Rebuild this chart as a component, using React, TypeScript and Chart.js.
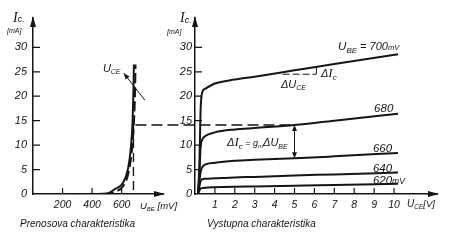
import { useEffect, useRef } from "react";
import { Chart, registerables } from "chart.js";

Chart.register(...registerables);

// Transfer characteristic Ic = f(UBE), two nearly coincident branches
const transferVbeSolid = [300, 440, 500, 554, 610, 644, 662, 674, 680, 683];
const transferIcSolid = [0, 0, 0.1, 1.0, 2.3, 5.3, 9.3, 14.7, 21.3, 26.5];
const transferVbeDashed = [480, 520, 560, 610, 645, 668, 682, 690, 694];
const transferIcDashed = [0, 0.1, 0.5, 1.6, 4.2, 8.5, 14, 20, 26.5];

// Output characteristics Ic = f(UCE), one curve per UBE
const uceVolts = [0.15, 0.22, 0.28, 0.35, 0.5, 1, 2, 3, 5, 7, 10.2];
const ic700 = [0, 6, 17, 20.6, 21.5, 22.6, 23.4, 24.0, 25.3, 26.6, 28.6];
const ic680 = [0, 4, 9.5, 11.0, 11.8, 12.6, 13.2, 13.5, 14.1, 15.0, 16.4];
const ic660 = [0, 2.5, 4.5, 5.4, 6.0, 6.4, 6.8, 7.0, 7.3, 7.7, 8.4];
const ic640 = [0, 1.5, 2.6, 3.0, 3.1, 3.2, 3.4, 3.5, 3.8, 4.0, 4.4];
const ic620 = [0, 0.7, 1.1, 1.2, 1.3, 1.4, 1.5, 1.55, 1.7, 1.85, 2.1];

// Axis ticks
const icTicks = [0, 5, 10, 15, 20, 25, 30];
const vbeTicks = [200, 400, 600];
const uceTicks = [1, 2, 3, 4, 5, 6, 7, 8, 9, 10];

// Operating point linking both diagrams
const operatingVbe = 680;
const operatingUce = 5;
// Slope triangle on the 700 mV curve
const slopeUceFrom = 4.4;
const slopeUceTo = 6.1;

const INK = "#151515";
const SANS = '"Liberation Sans", Arial, sans-serif';
const SERIF = '"Liberation Serif", "Times New Roman", serif';

const W = 452;
const H = 241;

type Run = { t: string; size: number; dy?: number; serif?: boolean };

function interp(xs: number[], ys: number[], v: number) {
  for (let i = 1; i < xs.length; i++) {
    if (v <= xs[i]) {
      const t = (v - xs[i - 1]) / (xs[i] - xs[i - 1]);
      return ys[i - 1] + t * (ys[i] - ys[i - 1]);
    }
  }
  return ys[ys.length - 1];
}

function drawRuns(ctx: CanvasRenderingContext2D, runs: Run[], x: number, y: number) {
  let cx = x;
  ctx.textBaseline = "alphabetic";
  ctx.textAlign = "left";
  for (const r of runs) {
    ctx.font = `italic ${r.size}px ${r.serif ? SERIF : SANS}`;
    ctx.fillText(r.t, cx, y + (r.dy ?? 0));
    cx += ctx.measureText(r.t).width;
  }
}

function dashedLine(ctx: CanvasRenderingContext2D, x1: number, y1: number, x2: number, y2: number, dash: number[]) {
  ctx.save();
  ctx.setLineDash(dash);
  ctx.beginPath();
  ctx.moveTo(x1, y1);
  ctx.lineTo(x2, y2);
  ctx.stroke();
  ctx.restore();
}

function arrowHead(ctx: CanvasRenderingContext2D, fx: number, fy: number, tx: number, ty: number, len = 6, half = 2.5) {
  const a = Math.atan2(ty - fy, tx - fx);
  ctx.beginPath();
  ctx.moveTo(tx, ty);
  ctx.lineTo(tx - len * Math.cos(a) + half * Math.sin(a), ty - len * Math.sin(a) - half * Math.cos(a));
  ctx.lineTo(tx - len * Math.cos(a) - half * Math.sin(a), ty - len * Math.sin(a) + half * Math.cos(a));
  ctx.closePath();
  ctx.fill();
}

// Inner tick marks and arrow-tipped axes
const axisDecor = {
  id: "axisDecor",
  afterDraw(chart: any) {
    const { ctx, chartArea: a, scales } = chart;
    ctx.save();
    ctx.strokeStyle = INK;
    ctx.fillStyle = INK;
    ctx.lineWidth = 1.2;
    ctx.beginPath();
    for (const t of scales.x.ticks) {
      const px = scales.x.getPixelForValue(t.value);
      ctx.moveTo(px, a.bottom);
      ctx.lineTo(px, a.bottom - 6);
    }
    for (const t of scales.y.ticks) {
      if (t.value === 0) continue;
      const py = scales.y.getPixelForValue(t.value);
      ctx.moveTo(a.left, py);
      ctx.lineTo(a.left + 7, py);
    }
    ctx.stroke();
    ctx.beginPath();
    ctx.moveTo(a.left, a.top - 2);
    ctx.lineTo(a.left - 3, a.top + 9);
    ctx.lineTo(a.left + 3, a.top + 9);
    ctx.closePath();
    ctx.moveTo(a.right + 2, a.bottom);
    ctx.lineTo(a.right - 9, a.bottom - 3);
    ctx.lineTo(a.right - 9, a.bottom + 3);
    ctx.closePath();
    ctx.fill();
    ctx.restore();
  },
};

function makeOptions(xMax: number, xTicks: number[], left: number, right: number, yPad: number) {
  const tickFont = { family: SANS, size: 11, style: "italic" as const };
  return {
    responsive: false,
    animation: false as const,
    devicePixelRatio: 1,
    layout: { padding: { left: 0, top: 18, right: W - right, bottom: 0 } },
    plugins: { legend: { display: false }, tooltip: { enabled: false } },
    elements: { point: { radius: 0 } },
    scales: {
      x: {
        type: "linear" as const,
        min: 0,
        max: xMax,
        afterBuildTicks: (s: any) => {
          s.ticks = xTicks.map((v) => ({ value: v }));
        },
        afterFit: (s: any) => {
          s.height = H - 194;
        },
        grid: { display: false, drawTicks: false },
        border: { display: true, color: INK, width: 1.5 },
        ticks: { font: { ...tickFont, size: 10.5 }, color: INK, padding: 5, autoSkip: false, maxRotation: 0 },
      },
      y: {
        type: "linear" as const,
        min: 0,
        max: 36,
        afterBuildTicks: (s: any) => {
          s.ticks = icTicks.map((v) => ({ value: v }));
        },
        afterFit: (s: any) => {
          s.width = left;
        },
        grid: { display: false, drawTicks: false },
        border: { display: true, color: INK, width: 1.5 },
        ticks: { font: tickFont, color: INK, padding: yPad, autoSkip: false },
      },
    },
  };
}

const curve = (xs: number[], ys: number[], dash: number[] = []) => ({
  data: xs.map((x, i) => ({ x, y: ys[i] })),
  borderColor: INK,
  borderWidth: 2,
  borderDash: dash,
  pointRadius: 0,
  fill: false,
  cubicInterpolationMode: "monotone" as const,
});

export default function App() {
  const leftRef = useRef<HTMLCanvasElement>(null);
  const rightRef = useRef<HTMLCanvasElement>(null);

  useEffect(() => {
    if (!leftRef.current || !rightRef.current) return;
    const operatingIc = interp(uceVolts, ic680, operatingUce);
    const lowerIc = interp(uceVolts, ic660, operatingUce);

    const leftNotes = {
      id: "leftNotes",
      afterDraw(chart: any) {
        const { ctx, scales: { x, y }, chartArea: a } = chart;
        ctx.save();
        ctx.strokeStyle = INK;
        ctx.fillStyle = INK;
        ctx.lineWidth = 1.4;
        // UBE guide at the operating point
        const gx = x.getPixelForValue(operatingVbe);
        dashedLine(ctx, gx, y.getPixelForValue(operatingIc), gx, a.bottom, [9, 5]);
        // UCE pointer
        ctx.lineWidth = 1;
        const p1x = x.getPixelForValue(757), p1y = y.getPixelForValue(19.2);
        const p2x = x.getPixelForValue(615), p2y = y.getPixelForValue(24.7);
        ctx.beginPath();
        ctx.moveTo(p1x, p1y);
        ctx.lineTo(p2x, p2y);
        ctx.stroke();
        arrowHead(ctx, p1x, p1y, p2x, p2y, 6, 2.5);
        drawRuns(ctx, [{ t: "U", size: 11 }, { t: "CE", size: 7, dy: 2 }], x.getPixelForValue(473), y.getPixelForValue(24.9));
        // axis titles
        drawRuns(ctx, [{ t: "I", size: 14, serif: true }, { t: "c.", size: 9, dy: 0.5 }], a.left - 20, 21.5);
        drawRuns(ctx, [{ t: "[mA]", size: 7 }], a.left - 26, 33);
        drawRuns(ctx, [{ t: "U", size: 9.5 }, { t: "BE", size: 6, dy: 1.5 }, { t: " [mV]", size: 9.5 }], a.right - 23, 209);
        drawRuns(ctx, [{ t: "Prenosova charakteristika", size: 10 }], 20, 227);
        ctx.restore();
      },
    };

    const leftChart = new Chart(leftRef.current, {
      type: "line",
      data: {
        datasets: [
          curve(transferVbeSolid, transferIcSolid),
          curve(transferVbeDashed, transferIcDashed, [10, 4]),
        ],
      },
      options: makeOptions(880, vbeTicks, 33, 163, 6) as any,
      plugins: [axisDecor, leftNotes],
    });

    const rightNotes = {
      id: "rightNotes",
      afterDraw(chart: any) {
        const { ctx, scales: { x, y } } = chart;
        ctx.save();
        ctx.strokeStyle = INK;
        ctx.fillStyle = INK;
        ctx.lineWidth = 1.4;
        // horizontal projection from the transfer curve to the output curve
        const opY = y.getPixelForValue(operatingIc);
        const startX = leftChart.scales.x.getPixelForValue(operatingVbe);
        const opX = x.getPixelForValue(operatingUce);
        dashedLine(ctx, startX + 2, opY, opX, opY, [11, 5]);
        // ΔIc double arrow between the 680 and 660 curves
        ctx.lineWidth = 1;
        const loY = y.getPixelForValue(lowerIc);
        ctx.beginPath();
        ctx.moveTo(opX, opY + 2);
        ctx.lineTo(opX, loY - 2);
        ctx.stroke();
        arrowHead(ctx, opX, loY, opX, opY, 6, 2.5);
        arrowHead(ctx, opX, opY, opX, loY, 6, 2.5);
        // slope triangle on the 700 mV curve
        const sy1 = y.getPixelForValue(interp(uceVolts, ic700, slopeUceFrom));
        const sy2 = y.getPixelForValue(interp(uceVolts, ic700, slopeUceTo));
        const sx1 = x.getPixelForValue(slopeUceFrom);
        const sx2 = x.getPixelForValue(slopeUceTo);
        dashedLine(ctx, sx1, sy1 + 2, sx2, sy1 + 2, [7, 3]);
        ctx.beginPath();
        ctx.moveTo(sx2, sy1 + 2);
        ctx.lineTo(sx2, sy2);
        ctx.stroke();

        const at = (u: number, i: number): [number, number] => [x.getPixelForValue(u), y.getPixelForValue(i)];
        drawRuns(ctx, [{ t: "U", size: 11.5 }, { t: "BE", size: 8, dy: 2.5 }, { t: " = 700", size: 11 }, { t: "mV", size: 7.5 }], ...at(7.19, 29.4));
        drawRuns(ctx, [{ t: "680", size: 11.5 }], ...at(9.0, 16.8));
        drawRuns(ctx, [{ t: "660", size: 11.5 }], ...at(8.94, 8.6));
        drawRuns(ctx, [{ t: "640", size: 11.5 }], ...at(8.94, 4.5));
        drawRuns(ctx, [{ t: "620", size: 11.5 }, { t: "mV", size: 8.5 }], ...at(8.94, 2.05));
        drawRuns(ctx, [{ t: "Δ", size: 11 }, { t: "U", size: 11 }, { t: "CE", size: 7, dy: 2.5 }], ...at(4.32, 21.7));
        drawRuns(ctx, [{ t: "Δ", size: 11 }, { t: "I", size: 13, serif: true }, { t: "c", size: 8, dy: 2.5 }], ...at(6.33, 23.9));
        drawRuns(
          ctx,
          [
            { t: "Δ", size: 11 },
            { t: "I", size: 13, serif: true },
            { t: "c", size: 8, dy: 2.5 },
            { t: " = ", size: 9 },
            { t: "g", size: 9 },
            { t: "m", size: 6, dy: 1.5 },
            { t: "Δ", size: 11 },
            { t: "U", size: 11 },
            { t: "BE", size: 7, dy: 2.5 },
          ],
          ...at(1.61, 9.8)
        );
        // axis titles
        const a = chart.chartArea;
        drawRuns(ctx, [{ t: "I", size: 14, serif: true }, { t: "c.", size: 9, dy: 0.5 }], a.left - 15, 22);
        drawRuns(ctx, [{ t: "[mA]", size: 7 }], a.left - 28, 34);
        drawRuns(ctx, [{ t: "U", size: 10 }, { t: "CE", size: 6.5, dy: 1.5 }, { t: "[V]", size: 9.5 }], 407, 207);
        drawRuns(ctx, [{ t: "Vystupna charakteristika", size: 10 }], 207, 227);
        ctx.restore();
      },
    };

    const rightChart = new Chart(rightRef.current, {
      type: "line",
      data: {
        datasets: [
          curve(uceVolts, ic700),
          curve(uceVolts, ic680),
          curve(uceVolts, ic660),
          curve(uceVolts, ic640),
          curve(uceVolts, ic620),
        ],
      },
      options: makeOptions(12.16, uceTicks, 195, 437, 3) as any,
      plugins: [axisDecor, rightNotes],
    });

    return () => {
      rightChart.destroy();
      leftChart.destroy();
    };
  }, []);

  const canvasStyle = { position: "absolute" as const, left: 0, top: 0, width: W, height: H };
  return (
    <div style={{ position: "fixed", left: 0, top: 0, width: W, height: H, background: "#fff" }}>
      <canvas ref={leftRef} width={W} height={H} style={canvasStyle} />
      <canvas ref={rightRef} width={W} height={H} style={canvasStyle} />
    </div>
  );
}
